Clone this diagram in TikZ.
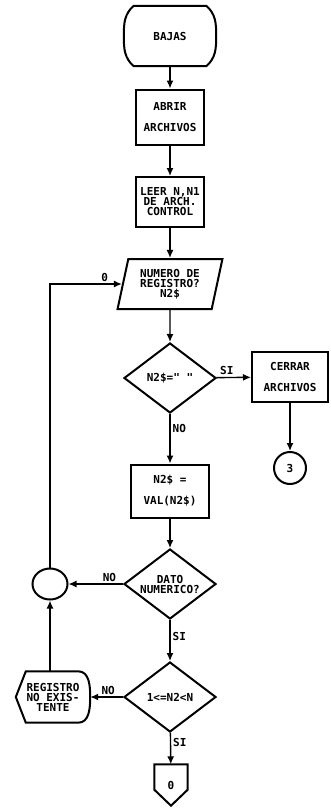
\documentclass[tikz,border=0pt]{standalone}
\usepackage{fontspec}
\newfontfamily\dotfont{DejaVu Sans Mono}
\usetikzlibrary{shapes.geometric,arrows.meta}

\tikzset{
  every node/.style={font=\dotfont\bfseries\fontsize{11}{10}\selectfont, align=center},
  outline/.style={draw, line width=2pt},
  box/.style={outline, minimum width=68pt, minimum height=55pt, inner sep=1pt},
  io/.style={outline, trapezium, trapezium left angle=76, trapezium right angle=104,
    trapezium stretches=true, minimum width=105pt, minimum height=50pt, inner sep=1pt},
  decision/.style={outline, diamond, aspect=1.3, minimum width=92pt,
    minimum height=70pt, inner sep=0pt},
  conn/.style={outline, circle, inner sep=0pt},
  flow/.style={line width=1.4pt, -{Latex[length=8pt,width=7pt]}},
  lbl/.style={inner sep=2pt}
}

\begin{document}
\begin{tikzpicture}[x=1pt,y=1pt]
\useasboundingbox (0,0) rectangle (330,-808);

\node[minimum width=92pt, minimum height=60pt, inner sep=0pt] (bajas) at (170,-36) {BAJAS};
\draw[outline] ([xshift=10pt]bajas.north west) -- ([xshift=-10pt]bajas.north east)
  to[out=-40,in=90] (bajas.east) to[out=-90,in=40] ([xshift=-10pt]bajas.south east)
  -- ([xshift=10pt]bajas.south west) to[out=140,in=-90] (bajas.west)
  to[out=90,in=-140] cycle;
\node[box] (abrir) at (170,-117) {ABRIR\\[11pt]ARCHIVOS};
\node[box, minimum height=50pt] (leer) at (170,-202) {LEER N,N1\\DE ARCH.\\CONTROL};
\node[io] (leerreg) at (170,-284) {NUMERO DE\\REGISTRO?\\N2\$};
\node[decision] (vacio) at (170,-378) {N2\$=" "};
\node[box, minimum width=76pt, minimum height=50pt] (cerrar) at (290,-377) {CERRAR\\[11pt]ARCHIVOS};
\node[conn, minimum size=32pt] (fin) at (290,-468) {3};
\node[box, minimum width=78pt, minimum height=53pt] (val) at (170,-491) {N2\$ =\\[11pt]VAL(N2\$)};
\node[decision] (numerico) at (170,-584) {DATO\\NUMERICO?};
\node[conn, ellipse, minimum width=35pt, minimum height=31pt] (union) at (50,-584) {};
\node[decision] (rango) at (170,-697) {1<=N2<N};
\node[minimum width=74pt, minimum height=51pt, inner sep=0pt] (noexiste) at (53,-697) {REGISTRO\\NO EXIS-\\TENTE};
\draw[outline] (noexiste.west) -- ([xshift=10pt]noexiste.north west)
  -- ([xshift=-12pt]noexiste.north east) to[out=0,in=90] (noexiste.east)
  to[out=-90,in=0] ([xshift=-12pt]noexiste.south east)
  -- ([xshift=10pt]noexiste.south west) -- cycle;
\node[minimum width=33pt, minimum height=41pt, inner sep=0pt] (sigue) at (171,-785) {0};
\draw[outline] (sigue.north west) -- (sigue.north east) -- ([yshift=16pt]sigue.south east)
  -- (sigue.south) -- ([yshift=16pt]sigue.south west) -- cycle;

\draw[flow] (bajas) -- (abrir);
\draw[flow] (abrir) -- (leer);
\draw[flow] (leer) -- (leerreg);
\draw[flow] (leerreg) -- (vacio);
\draw[flow] (vacio) -- node[lbl, above, pos=0.3] (si1) {SI} (cerrar);
\draw[flow] (cerrar) -- (fin);
\draw[flow] (vacio) -- node[lbl, right, pos=0.3] (no1) {NO} (val);
\draw[flow] (val) -- (numerico);
\draw[flow] (numerico) -- node[lbl, above, pos=0.25] (no2) {NO} (union);
\draw[flow] (numerico) -- node[lbl, right, pos=0.4] (si2) {SI} (rango);
\draw[flow] (rango) -- node[lbl, above, pos=0.45] (no3) {NO} (noexiste);
\draw[flow] (rango) -- node[lbl, right, pos=0.3] (si3) {SI} (sigue);
\draw[flow] (union.south |- noexiste.north) -- (union.south);
\draw[flow] (union.north) |- node[lbl, above, pos=0.88] (ocho) {0} (leerreg.west);
\end{tikzpicture}
\end{document}
